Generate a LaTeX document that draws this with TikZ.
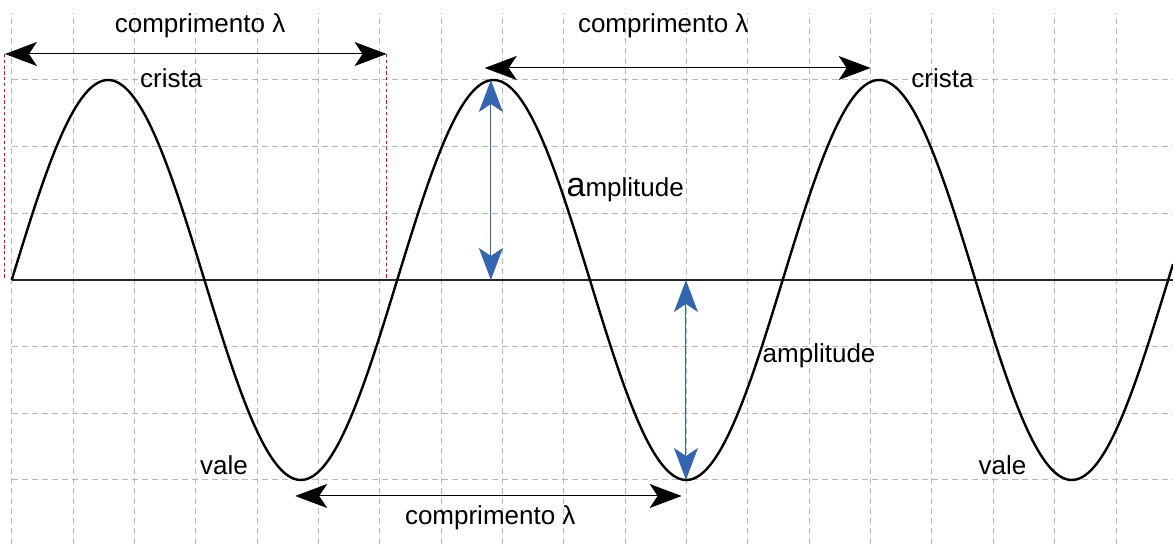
\documentclass[tikz,border=0pt]{standalone}
\usepackage{fontspec}
\setmainfont{Liberation Sans}
\usepackage{tikz}
\usetikzlibrary{arrows.meta}
\definecolor{ampblue}{RGB}{52,101,176}

\begin{document}
\begin{tikzpicture}[x=30.675pt, y=33.333pt,
    gridline/.style={black!28, line width=0.5pt, dash pattern=on 3pt off 2pt},
    axisline/.style={black!85, line width=0.7pt},
    wave/.style={black, line width=1.2pt},
    guide/.style={red, line width=0.5pt, dash pattern=on 1.6pt off 1.3pt},
    lenarrow/.style={black, line width=0.5pt,
        {Stealth[length=16pt,width=12pt,inset=4pt]}-{Stealth[length=16pt,width=12pt,inset=4pt]}},
    amparrow/.style={ampblue, line width=0.5pt,
        {Stealth[length=16pt,width=12pt,inset=4pt]}-{Stealth[length=16pt,width=12pt,inset=4pt]}},
    lbl/.style={font=\fontsize{13}{15}\selectfont, inner sep=0pt}]
    \useasboundingbox (-0.191,-3.96) rectangle (18.929,4.2);

    % Grid (one column per radian, one row per third of the amplitude)
    \foreach \i in {0,...,18}
        \draw[gridline] (\i,-3.96) -- (\i,4);
    \foreach \j in {-3,-2,-1,1,2,3}
        \draw[gridline] (0,\j) -- (18.929,\j);

    % Axis and wave
    \draw[axisline] (0,0) -- (18.929,0);
    \draw[wave] plot[domain=0:18.929, samples=400] (\x,{3*sin(\x r)});

    % End points of the arrows
    \coordinate (lenAl) at (-0.11,3.39);
    \coordinate (lenAr) at (6.11,3.39);
    \coordinate (lenAlb) at (-0.11,0);
    \coordinate (lenArb) at (6.11,0);
    \coordinate (lenBl) at (7.71,3.18);
    \coordinate (lenBr) at (14.0,3.18);
    \coordinate (lenCl) at (4.62,-3.24);
    \coordinate (lenCr) at (10.92,-3.24);
    \coordinate (ampAt) at (7.81,3);
    \coordinate (ampAb) at (7.81,0);
    \coordinate (ampBt) at (10.99,0);
    \coordinate (ampBb) at (10.99,-3);

    % Red guides for the first wavelength
    \draw[guide] (lenAl) -- (lenAlb);
    \draw[guide] (lenAr) -- (lenArb);

    % Wavelength arrows
    \draw[lenarrow] (lenAl) -- (lenAr);
    \draw[lenarrow] (lenBl) -- (lenBr);
    \draw[lenarrow] (lenCl) -- (lenCr);

    % Amplitude arrows
    \draw[amparrow] (ampAt) -- (ampAb);
    \draw[amparrow] (ampBt) -- (ampBb);

    % Labels
    \node[lbl] (lenA) at (3.07,3.82) {comprimento λ};
    \node[lbl] (lenB) at (10.62,3.82) {comprimento λ};
    \node[lbl] (lenC) at (7.80,-3.57) {comprimento λ};
    \node[lbl] (crestA) at (2.60,3.03) {crista};
    \node[lbl] (crestB) at (15.17,3.03) {crista};
    \node[lbl] (troughA) at (3.46,-2.78) {vale};
    \node[lbl] (troughB) at (16.15,-2.78) {vale};
    \node[lbl] (ampA) at (10.0,1.35) {{\fontsize{17}{17}\selectfont a}mplitude};
    \node[lbl] (ampB) at (13.16,-1.14) {amplitude};
\end{tikzpicture}
\end{document}
